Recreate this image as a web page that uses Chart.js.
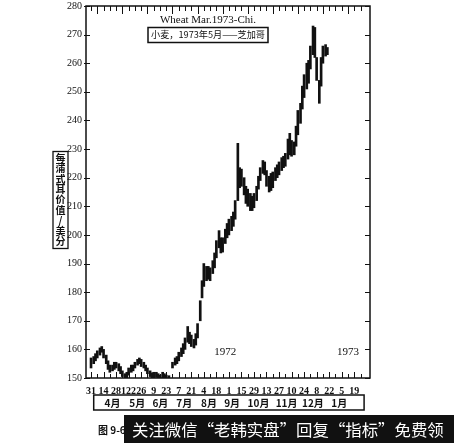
<!DOCTYPE html>
<html>
<head>
<meta charset="utf-8">
<script src="https://cdn.jsdelivr.net/npm/chart.js@4.4.0/dist/chart.umd.min.js"></script>
<style>
  html, body { margin: 0; padding: 0; background: #fff; }
</style>
</head>
<body>
<canvas id="wheatChart" width="454" height="443"></canvas>
<script>
// days counted from 31 Mar 1972
var barDays = [0,
    3, 5, 7, 10, 12, 14, 17, 19, 21, 24, 26, 28, 31, 33, 35, 38, 40, 42,
    45, 47, 49, 52, 54, 56, 59, 61, 63, 66, 68, 70, 73, 75, 77, 80, 82, 84,
    87, 89, 91, 94, 96, 98, 101, 103, 105, 108, 110, 112, 115, 117, 119,
    122, 124, 126, 129, 131, 133, 136, 138, 140, 143, 145, 147, 150, 152, 154,
    157, 159, 161, 164, 166, 168, 171, 173, 175, 178, 180, 182, 185, 187, 189,
    192, 194, 196, 199, 201, 203, 206, 208, 210, 213, 215, 217, 220, 222, 224,
    227, 229, 231, 234, 236, 238, 241, 243, 245, 248, 250, 252, 255, 257, 259,
    262, 264];

var lows = [153.5,
    155, 156, 157, 158, 159, 157, 155, 153, 152, 152.5, 153, 153.5, 152.5, 151.5, 150.5, 149.5, 149.8, 151,
    152, 152.5, 153.5, 154.5, 155, 154, 153.5, 152.5, 151.5, 150.5, 150, 150, 150.2, 149.6, 149.5, 150, 149.8, 149.5,
    149.3, null, 153.5, 154.5, 155, 156, 157.5, 158.5, 160, 162.5, 162, 161, 160.5, 161.5, 164,
    170, 178, 182, 184, 184.5, 184, 186.5, 188.5, 192, 195.5, 193.7, 194, 197, 199, 200,
    201.5, 203, 205.5, 212, 216.5, 217, 214, 211, 210, 208.5, 208.5, 209.5, 212, 216, 219,
    221.5, 221, 217, 215, 215.5, 216.5, 219, 220, 221, 222.5, 223.5, 224, 226.5, 228, 227.5,
    228, 231, 235, 239, 244, 248, 251, 253, 258, 263, 262, 254, 246, 252, 260,
    262.5, 263];

var highs = [157,
    157.5, 158.5, 159.5, 160.5, 161, 160, 158, 156, 154.5, 154.5, 155.5, 155.5, 155, 154, 152.5, 151.5, 152, 153.5,
    154.5, 154.5, 155.5, 156.5, 157, 156.5, 155.5, 154.5, 153.5, 152.5, 151.8, 152, 152, 151.5, 151, 152, 151.5, 151,
    150.8, null, 155.5, 157, 157.5, 159, 160.5, 162, 164, 168, 166, 165, 163.5, 165.5, 169,
    177, 184, 190, 189, 189, 188.5, 191, 193.7, 198, 201.5, 199, 199, 202, 204, 205.5,
    206.5, 208, 212, 232, 223.5, 223, 220, 217, 216, 214.5, 213.5, 214.5, 217, 220.5, 223.5,
    226, 225.5, 222.5, 220.5, 221.5, 222, 223.5, 224.5, 225.5, 227, 227.5, 228.5, 233.5, 235.5, 233,
    232.5, 238, 243.5, 246, 252, 256, 260, 261, 266, 273, 272.5, 262, 254, 262, 266,
    266.5, 265.5];

var dateLabels = ['31', '14', '28', '122', '26', '9', '23', '7', '21', '4', '18',
    '1', '15', '29', '13', '27', '10', '24', '8', '22', '5', '19'];
var weekDays = [];
for (var w = 0; w <= 43; w++) weekDays.push(w * 7);

var monthNames = ['4月', '5月', '6月', '7月', '8月', '9月', '10月', '11月', '12月', '1月'];
var monthDays = [13, 43, 71, 100, 130, 158, 190, 224, 256, 288];

var serif = 'Liberation Serif, DejaVu Serif, serif';
var cjk = '"Noto Sans CJK SC", sans-serif';

var points = [];
barDays.forEach(function (d, i) {
    if (lows[i] !== null) points.push({ x: d, y: [lows[i], highs[i]] });
});

// draw text squeezed to a given width
function fitText(ctx, txt, x, y, size, family, maxW, weight) {
    ctx.font = (weight || '') + ' ' + size + 'px ' + family;
    var w = ctx.measureText(txt).width;
    if (w > maxW) {
        ctx.font = (weight || '') + ' ' + (size * maxW / w).toFixed(2) + 'px ' + family;
    }
    ctx.fillText(txt, x, y);
}

// no extra room for overhanging tick labels
function noPad(s) {
    s.paddingTop = 0;
    s.paddingBottom = 0;
    s.paddingLeft = 0;
    s.paddingRight = 0;
}

// frame, inward ticks and printed notes
var chartDecor = {
    id: 'chartDecor',
    afterDraw: function (chart) {
        var ctx = chart.ctx, a = chart.chartArea;
        var x = chart.scales.x, y = chart.scales.y, xm = chart.scales.xm;
        ctx.save();
        ctx.strokeStyle = '#111';
        ctx.lineWidth = 1.5;
        ctx.strokeRect(a.left, a.top, a.right - a.left, a.bottom - a.top);

        ctx.lineWidth = 1;
        ctx.beginPath();
        x.ticks.forEach(function (t) {
            var px = Math.round(x.getPixelForValue(t.value)) + 0.5;
            if (px > a.right - 2) return;
            var wk = Math.round(t.value / 7);
            ctx.moveTo(px, a.bottom);
            ctx.lineTo(px, a.bottom - (wk % 2 === 0 ? 6 : 4));
            ctx.moveTo(px, a.top);
            ctx.lineTo(px, a.top + (wk % 4 === 1 ? 8 : 5));
        });
        y.ticks.forEach(function (t) {
            var py = Math.round(y.getPixelForValue(t.value)) + 0.5;
            ctx.moveTo(a.left - 2, py);
            ctx.lineTo(a.left + 4, py);
            ctx.moveTo(a.right, py);
            ctx.lineTo(a.right - 5, py);
        });
        ctx.stroke();

        // month strip box
        ctx.lineWidth = 1.5;
        var bx0 = x.getPixelForValue(3), bx1 = x.getPixelForValue(305);
        ctx.strokeRect(bx0, xm.top - 1, bx1 - bx0, xm.bottom - xm.top + 1);

        // title
        ctx.fillStyle = '#111';
        ctx.textAlign = 'center';
        ctx.textBaseline = 'middle';
        ctx.font = '11px ' + serif;
        ctx.fillText('Wheat Mar.1973-Chi.', 208, 20);
        fitText(ctx, '小麦，1973年5月——芝加哥', 208, 35, 10.5, cjk, 114);
        ctx.lineWidth = 1.5;
        ctx.strokeRect(148, 27.5, 120, 15);

        // year notes
        ctx.font = '11px ' + serif;
        ctx.fillText('1972', x.getPixelForValue(150), y.getPixelForValue(159));
        ctx.fillText('1973', x.getPixelForValue(287), y.getPixelForValue(159));

        // vertical y title
        var yTitle = '每蒲式耳价值/美分'.split('');
        ctx.font = 'bold 10px ' + cjk;
        yTitle.forEach(function (ch, i) {
            ctx.fillText(ch, 60.5, 158 + i * 10.4);
        });
        ctx.lineWidth = 1.3;
        ctx.strokeRect(53, 151.5, 15, 97);

        // caption and banner
        ctx.textAlign = 'left';
        ctx.font = 'bold 10px ' + cjk;
        ctx.fillText('图 9-6', 98, 430);
        ctx.fillStyle = '#111';
        ctx.fillRect(124, 415, 330, 28);
        ctx.fillStyle = '#fff';
        fitText(ctx, '关注微信“老韩实盘”回复“指标”免费领', 132, 430, 18, cjk, 312);
        ctx.restore();
    }
};

var ctx = document.getElementById('wheatChart').getContext('2d');

var wheatChart = new Chart(ctx, {
    type: 'bar',
    data: {
        datasets: [
            {
                label: 'Wheat Mar.1973',
                data: points,
                backgroundColor: '#111',
                borderWidth: 0,
                barThickness: 2,
                grouped: false
            }
        ]
    },
    options: {
        responsive: false,
        animation: false,
        layout: {
            padding: { left: 0, right: 84, top: 6, bottom: 33 }
        },
        plugins: {
            legend: { display: false },
            tooltip: { enabled: false }
        },
        scales: {
            x: {
                type: 'linear',
                position: 'bottom',
                min: -2,
                max: 308,
                afterBuildTicks: function (s) {
                    s.ticks = weekDays.map(function (v) { return { value: v }; });
                },
                afterFit: function (s) { s.height = 18; noPad(s); },
                ticks: {
                    autoSkip: false,
                    maxRotation: 0,
                    minRotation: 0,
                    padding: 7,
                    color: '#111',
                    font: { family: serif, size: 10, weight: 'bold' },
                    callback: function (v) {
                        return v % 14 === 0 ? dateLabels[v / 14] : '';
                    }
                },
                grid: { display: false, drawTicks: false },
                border: { display: false }
            },
            xm: {
                type: 'linear',
                position: 'bottom',
                min: -2,
                max: 308,
                afterBuildTicks: function (s) {
                    s.ticks = monthDays.map(function (v) { return { value: v }; });
                },
                afterFit: function (s) { s.height = 14; noPad(s); },
                ticks: {
                    autoSkip: false,
                    maxRotation: 0,
                    minRotation: 0,
                    padding: 1,
                    color: '#111',
                    font: { family: cjk, size: 10, weight: 'bold' },
                    callback: function (v, i) { return monthNames[i]; }
                },
                grid: { display: false, drawTicks: false },
                border: { display: false }
            },
            y: {
                min: 150,
                max: 280,
                afterFit: function (s) { s.width = 86; noPad(s); },
                ticks: {
                    stepSize: 10,
                    padding: 4,
                    color: '#111',
                    font: { family: serif, size: 10 }
                },
                grid: { display: false, drawTicks: false },
                border: { display: false }
            }
        }
    },
    plugins: [chartDecor]
});
</script>
</body>
</html>
